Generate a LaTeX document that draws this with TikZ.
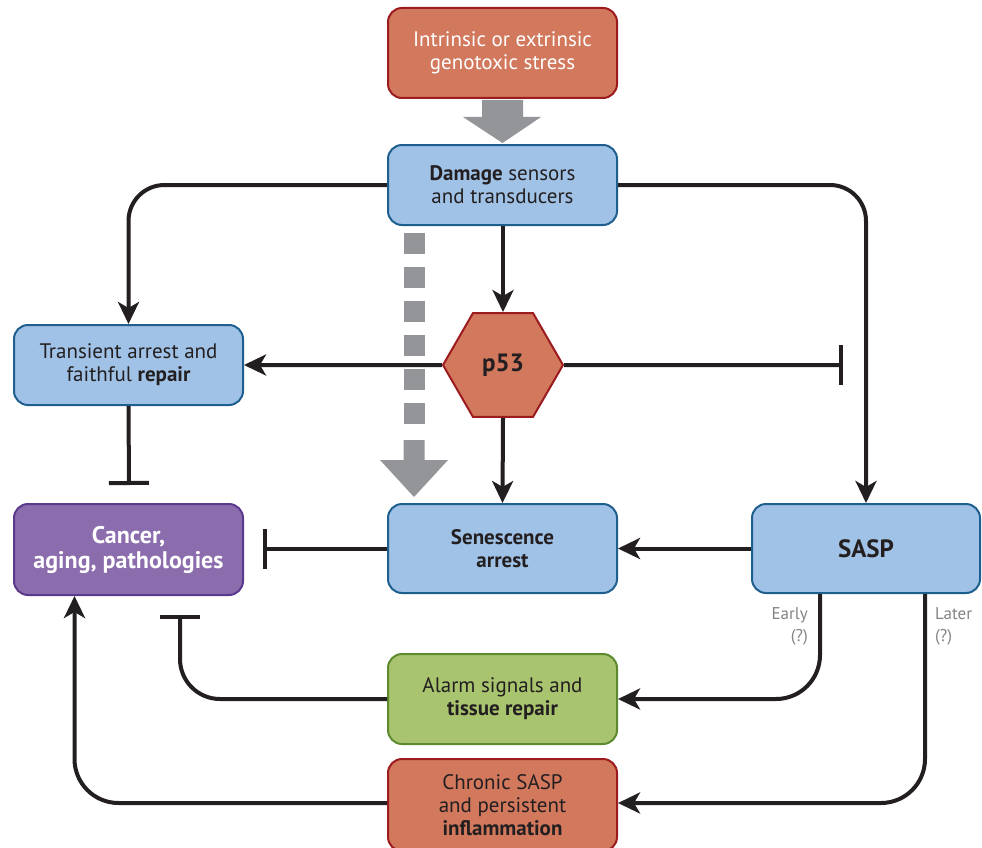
\documentclass[tikz,border=0pt]{standalone}
\usepackage{fontspec}
\setmainfont{PT Sans}
\usetikzlibrary{arrows.meta,shapes.geometric}
\definecolor{salmon}{HTML}{D2785D}
\definecolor{darkred}{HTML}{9B1B1E}
\definecolor{lblue}{HTML}{A0C2E6}
\definecolor{dblue}{HTML}{1F5F8F}
\definecolor{purp}{HTML}{8B6DAD}
\definecolor{dpurp}{HTML}{5B3A8C}
\definecolor{lgreen}{HTML}{A9C46E}
\definecolor{dgreen}{HTML}{5D8A2F}
\definecolor{txt}{HTML}{231F20}
\definecolor{garrow}{HTML}{939598}
\definecolor{glabel}{HTML}{808285}
\tikzset{
  boxbase/.style={rounded corners=14pt, line width=2pt, minimum width=229pt, align=center, inner sep=0pt, font=\fontsize{21}{23}\selectfont},
  redbox/.style={boxbase, fill=salmon, draw=darkred},
  bluebox/.style={boxbase, fill=lblue, draw=dblue, text=txt},
  purpbox/.style={boxbase, fill=purp, draw=dpurp, text=white},
  greenbox/.style={boxbase, fill=lgreen, draw=dgreen, text=txt},
  conn/.style={line width=4pt, draw=txt},
  arr/.style={conn, -{Stealth[length=22pt,width=21pt,inset=6pt]}},
  inh/.style={conn, -{Bar[width=40pt,line width=4pt]}},
  lbl/.style={text=glabel, font=\fontsize{17}{22}\selectfont, inner sep=0pt},
}
\begin{document}
\begin{tikzpicture}[x=1pt,y=-1pt]
\useasboundingbox (0,0) rectangle (982,848);
% boxes
\node[redbox, minimum height=90pt, text=white] (stress) at (502.5,53) {Intrinsic or extrinsic\\genotoxic stress};
\node[bluebox, minimum height=80pt] (damage) at (502.5,185) {\textbf{Damage} sensors\\and transducers};
\node[bluebox, minimum height=80pt] (trans) at (128.5,365) {Transient arrest and\\faithful \textbf{repair}};
\node[purpbox, minimum height=91pt, font=\fontsize{24}{25}\selectfont\bfseries] (cancer) at (128.5,549.5) {Cancer,\\aging, pathologies};
\node[bluebox, minimum height=89pt, font=\fontsize{21}{23}\selectfont\bfseries] (sen) at (502.5,548.5) {Senescence\\arrest};
\node[bluebox, minimum height=89pt, minimum width=228pt, font=\fontsize{25}{25}\selectfont\bfseries] (sasp) at (866,548.5) {SASP};
\node[greenbox, minimum height=90pt] (alarm) at (502.5,699) {Alarm signals and\\\textbf{tissue repair}};
\node[redbox, minimum height=92pt, text=txt] (chronic) at (502.5,805) {Chronic SASP\\and persistent\\\textbf{inflammation}};
\node[regular polygon, regular polygon sides=6, shape border rotate=0, minimum size=120pt, fill=salmon, draw=darkred, line width=2pt, inner sep=0pt, text=txt, font=\fontsize{25}{25}\selectfont\bfseries] (p53) at (503,365) {p53};
% gray arrows
\fill[garrow] (482,100) -- (523,100) -- (523,117) -- (541,117) -- (502.5,143) -- (463,117) -- (482,117) -- cycle;
\draw[garrow, line width=21pt, dash pattern=on 21pt off 13pt] (414,233) -- (414,424);
\fill[garrow] (403.5,440) -- (424.5,440) -- (424.5,460) -- (448,460) -- (414,497) -- (380,460) -- (403.5,460) -- cycle;
% connectors
\draw[arr, rounded corners=36pt] (damage.west) -| (trans.north);
\draw[arr, rounded corners=36pt] (damage.east) -| (sasp.north);
\draw[arr] (damage.south -| p53.north) -- (p53.north);
\draw[arr] (p53.west) -- (trans.east);
\coordinate (p53bar) at (843,365);
\draw[inh] (p53.east) -- (p53bar);
\draw[arr] (p53.south) -- (sen.north);
\coordinate (transbar) at (129,485);
\draw[inh] (trans.south) -- (transbar);
\coordinate (senbar) at (263,548.5);
\draw[inh] (sen.west) -- (senbar);
\draw[arr] (sasp.west) -- (sen.east);
\draw[arr, rounded corners=44pt] ([xshift=-46pt]sasp.south) |- (alarm.east);
\draw[arr, rounded corners=44pt] ([xshift=59pt]sasp.south) |- (chronic.east |- 0,803);
\coordinate (alarmbar) at (180,615);
\draw[inh, rounded corners=40pt] (alarm.west) -| (alarmbar);
\draw[arr, rounded corners=44pt] (chronic.west |- 0,803) -| ([xshift=-54pt]cancer.south);
% labels
\node[lbl, align=right, anchor=north east] (early) at (808,607) {Early\\(?)};
\node[lbl, align=left, anchor=north west] (later) at (935,607) {Later\\(?)};
\end{tikzpicture}
\end{document}
